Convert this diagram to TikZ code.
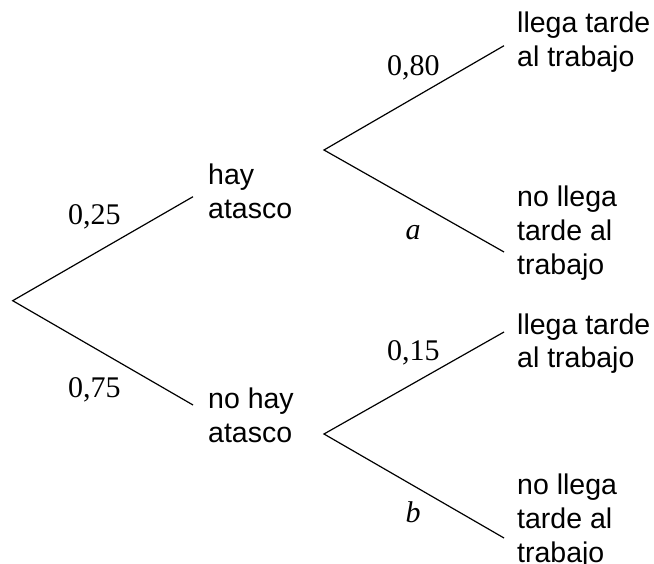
\documentclass[tikz,border=0pt]{standalone}
\usepackage{fontspec}
\setmainfont{Liberation Serif}
\setsansfont{Liberation Sans}
\begin{document}
\begin{tikzpicture}[x=1pt,y=-1pt,
  branch/.style={line width=1.2pt,black},
  lbl/.style={font=\sffamily\fontsize{28.5}{34}\selectfont,align=left,anchor=base west,inner sep=0pt},
  prob/.style={font=\fontsize{30}{34}\selectfont,anchor=base west,inner sep=0pt},
  var/.style={font=\fontsize{30}{34}\selectfont\itshape,anchor=base,inner sep=0pt}]
\useasboundingbox (0,0) rectangle (654,564);
\coordinate (root) at (12.7,300.7);
\coordinate (e1) at (193,196.7);
\coordinate (e2) at (193,405);
\coordinate (b1) at (324,150);
\coordinate (b1u) at (504,45.7);
\coordinate (b1d) at (504,252);
\coordinate (b2) at (324,434);
\coordinate (b2u) at (504,332);
\coordinate (b2d) at (504,538);
\draw[branch] (e1) -- (root) -- (e2);
\draw[branch] (b1u) -- (b1) -- (b1d);
\draw[branch] (b2u) -- (b2) -- (b2d);
\node[prob] (p25) at (68,225) {0,25};
\node[prob] (p75) at (68,397) {0,75};
\node[prob] (p80) at (387,76) {0,80};
\node[prob] (p15) at (387,360) {0,15};
\node[var] (va) at (413,240) {a};
\node[var] (vb) at (413,522) {b};
\node[lbl] (t1) at (208,219) {hay\\atasco};
\node[lbl] (t2) at (208,442) {no hay\\atasco};
\node[lbl] (t3) at (517,67) {llega tarde\\al trabajo};
\node[lbl] (t4) at (517,275) {no llega\\tarde al\\trabajo};
\node[lbl] (t5) at (517,368) {llega tarde\\al trabajo};
\node[lbl] (t6) at (517,562) {no llega\\tarde al\\trabajo};
\end{tikzpicture}
\end{document}
